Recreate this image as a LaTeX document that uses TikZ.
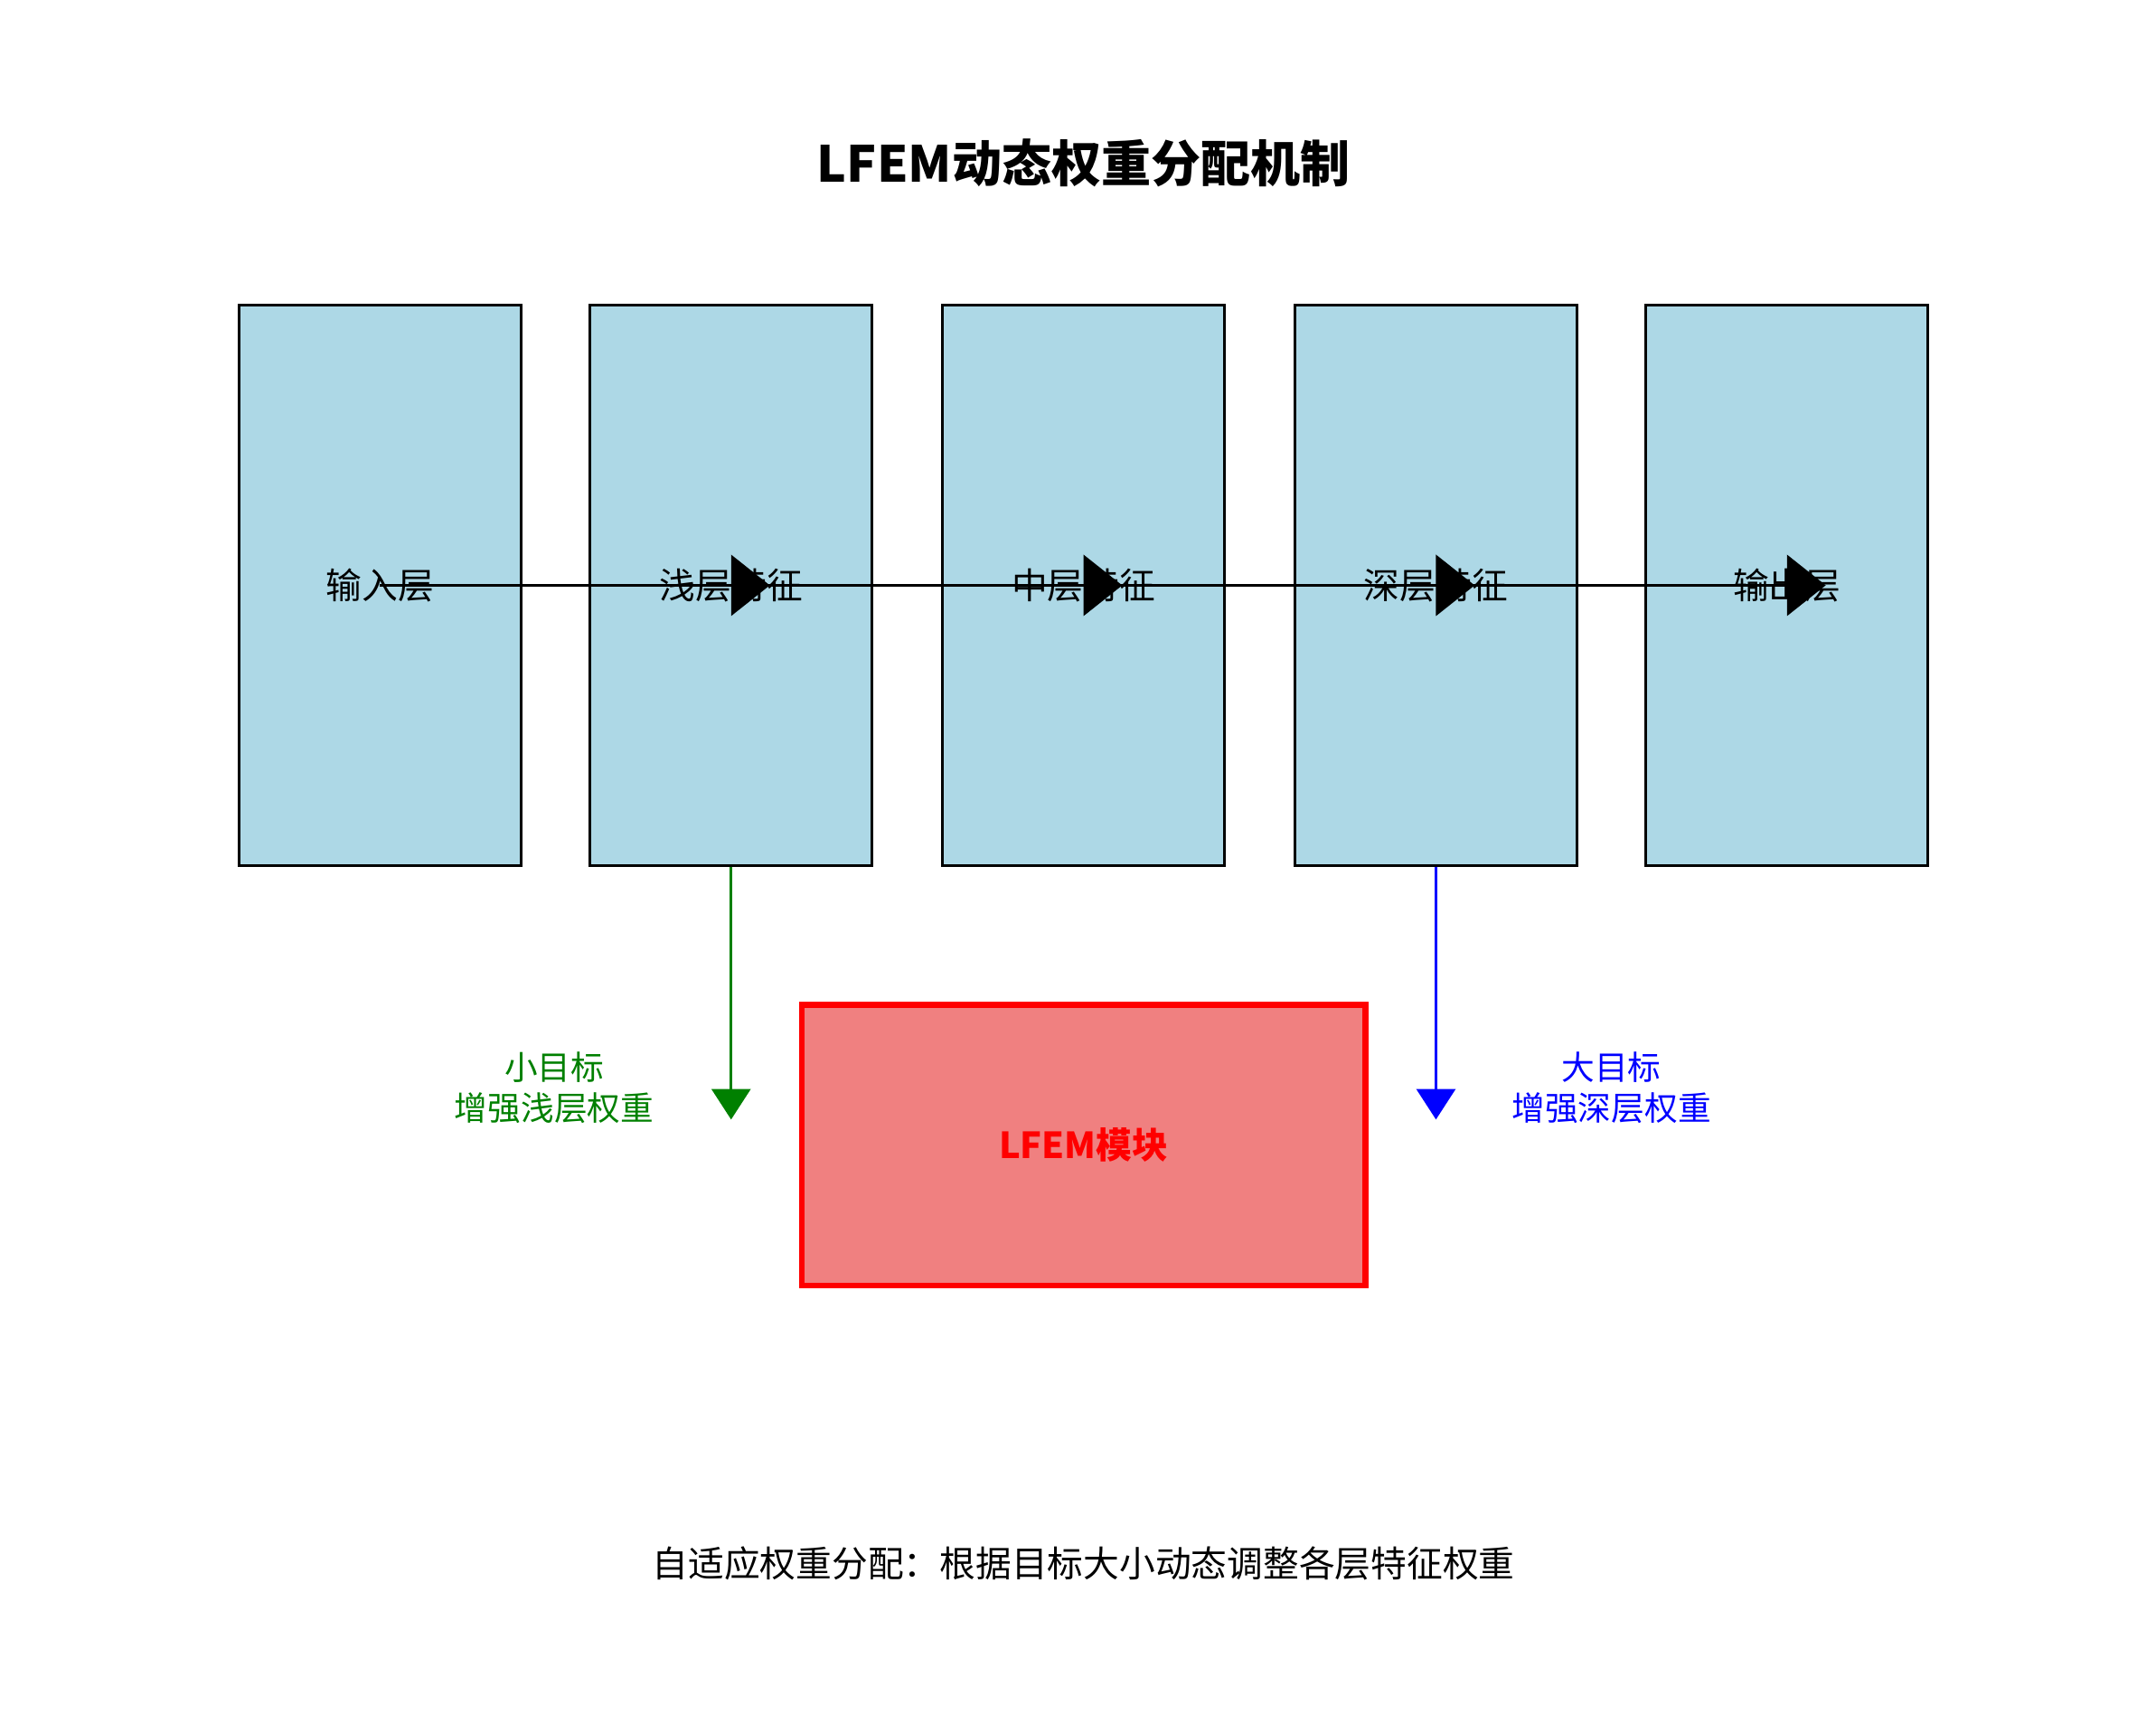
\documentclass[tikz,border=0pt]{standalone}
\usepackage{fontspec}
\setmainfont{Noto Sans CJK SC}
\usetikzlibrary{arrows.meta}
\definecolor{lb}{HTML}{ADD8E6}
\definecolor{lc}{HTML}{F08080}
\definecolor{gr}{HTML}{008000}
\begin{document}
\begin{tikzpicture}[x=0.5pt,y=-0.5pt,
  layer/.style={draw=black,line width=1pt,fill=lb,minimum width=102pt,minimum height=202.5pt,inner sep=0pt},
  lbl/.style={font=\fontsize{13}{15}\selectfont},
  flow/.style={line width=1pt,-{Triangle[length=14pt,width=22pt]}},
  down/.style={line width=1pt,-{Triangle[length=11pt,width=14pt]}}]
\useasboundingbox (0,0) rectangle (1560,1247);
\node[font=\bfseries\fontsize{18}{20}\selectfont] (title) at (784,118) {LFEM动态权重分配机制};
\foreach \n/\x in {a/275,b/529,c/784,d/1039,e/1293}{
  \node[layer] (\n) at (\x,423.5) {};
  \coordinate (\n t) at (\x+28,423.5);
}
\draw[flow] (a.center) -- (bt);
\draw[flow] (b.center) -- (ct);
\draw[flow] (c.center) -- (dt);
\draw[flow] (d.center) -- (et);
\node[lbl] at (a) {输入层};
\node[lbl] at (b) {浅层特征};
\node[lbl] at (c) {中层特征};
\node[lbl] at (d) {深层特征};
\node[lbl] at (e) {输出层};
\node[draw=red,line width=2pt,fill=lc,minimum width=204pt,minimum height=101.5pt,inner sep=0pt,text=red,font=\bfseries\fontsize{13}{15}\selectfont] (m) at (784,828.5) {LFEM模块};
\coordinate (g) at (529,810);
\coordinate (h) at (1039,810);
\draw[down,draw=gr,fill=gr] (b.south) -- (g);
\draw[down,draw=blue,fill=blue] (d.south) -- (h);
\node[text=gr,align=center,font=\fontsize{12}{15}\selectfont] (sl) at (401,787) {小目标\\增强浅层权重};
\node[text=blue,align=center,font=\fontsize{12}{15}\selectfont] (ll) at (1166,787) {大目标\\增强深层权重};
\node[lbl] (foot) at (784,1131) {自适应权重分配：根据目标大小动态调整各层特征权重};
\end{tikzpicture}
\end{document}
